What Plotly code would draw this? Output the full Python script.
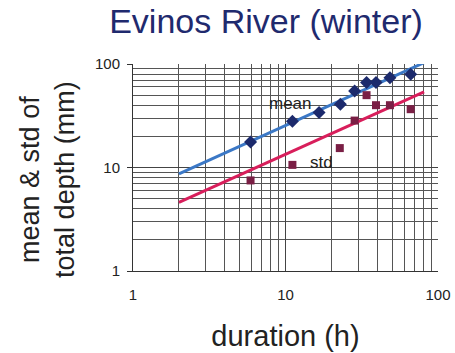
import plotly.graph_objects as go

# data
mean_x = [5.9, 11.1, 16.6, 22.9, 28.4, 34.0, 39.2, 48.4, 66.2]
mean_y = [17.6, 28.0, 34.0, 40.9, 54.7, 66.4, 66.4, 73.6, 79.4]
std_x = [5.9, 11.1, 22.7, 28.4, 34.0, 39.2, 48.4, 66.2]
std_y = [7.5, 10.6, 15.4, 28.4, 50.0, 40.0, 40.0, 36.6]
fit_x = [2.0, 81.0]
mean_fit_y = [8.7, 103.0]
std_fit_y = [4.6, 53.8]
tick_vals = [1, 10, 100]
tick_text = ["1", "10", "100"]

FONT = "Arial, Liberation Sans, sans-serif"

fig = go.Figure()
fig.add_trace(go.Scatter(x=fit_x, y=mean_fit_y, mode="lines",
                         line=dict(color="#3b78c6", width=3), showlegend=False))
fig.add_trace(go.Scatter(x=fit_x, y=std_fit_y, mode="lines",
                         line=dict(color="#d81e5b", width=3), showlegend=False))
fig.add_trace(go.Scatter(x=mean_x, y=mean_y, mode="markers",
                         marker=dict(symbol="diamond", size=10, color="#1c2a6c"),
                         showlegend=False))
fig.add_trace(go.Scatter(x=std_x, y=std_y, mode="markers",
                         marker=dict(symbol="square", size=8, color="#7a1f45"),
                         showlegend=False))

axis_common = dict(
    type="log", range=[0, 2], automargin=False,
    tickvals=tick_vals, ticktext=tick_text,
    showgrid=True, gridcolor="#444444", gridwidth=1,
    minor=dict(showgrid=True, gridcolor="#555555", gridwidth=1,
               dtick="D1", ticks=""),
    showline=True, linecolor="#333333", linewidth=1,
    tickfont=dict(family=FONT, size=15, color="#222222"),
    zeroline=False,
)

fig.update_xaxes(**axis_common, ticks="", ticklabelstandoff=10,
                 title=dict(text="duration (h)", font=dict(family=FONT, size=29, color="#222222"),
                            standoff=23))
fig.update_yaxes(**axis_common, ticks="outside", ticklen=5, tickcolor="#333333",
                 ticklabelstandoff=4)

fig.add_annotation(text="mean & std of<br>total depth (mm)", textangle=-90,
                   xref="paper", yref="paper", x=(48 - 133) / 305, y=0.44,
                   xanchor="center", yanchor="middle", showarrow=False,
                   font=dict(family=FONT, size=27, color="#222222"))
fig.add_annotation(text="mean", x=1.03, y=1.621, xref="x", yref="y",
                   showarrow=False, font=dict(family=FONT, size=17, color="#222222"))
fig.add_annotation(text="std", x=1.239, y=1.0485, xref="x", yref="y",
                   showarrow=False, font=dict(family=FONT, size=17, color="#222222"))

fig.update_layout(
    width=455, height=353,
    margin=dict(l=133, r=17, t=64, b=82),
    paper_bgcolor="white", plot_bgcolor="white",
    title=dict(text="Evinos River (winter)", x=266 / 455, xanchor="center",
               y=1 - 21 / 353, yanchor="middle",
               font=dict(family=FONT, size=34, color="#1f2a6e")),
)

fig.write_html("out.html", config={"displayModeBar": False},
               post_script="document.body.style.margin='0';document.body.style.overflow='hidden';")
